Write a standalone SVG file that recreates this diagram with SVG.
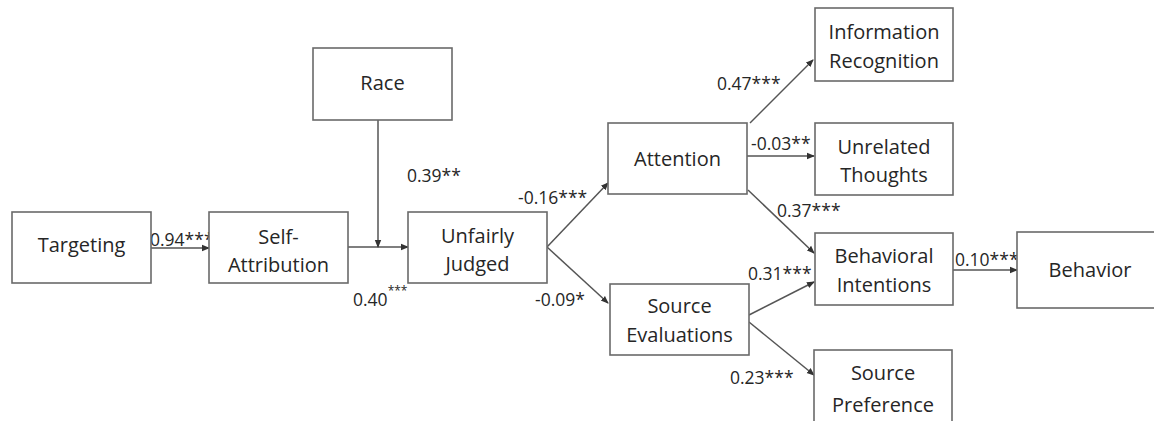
<svg xmlns="http://www.w3.org/2000/svg" width="1154" height="421" viewBox="0 0 1154 421">
<style>
.box{fill:#fff;stroke:#6a6a6a;stroke-width:1.6}
.t{font-family:"Open Sans","Liberation Sans",sans-serif;font-size:20px;fill:#262626;text-anchor:middle}
.l{font-family:"Open Sans","Liberation Sans",sans-serif;font-size:17.5px;fill:#262626}
.sup{font-size:12px}
.c{stroke:#555;stroke-width:1.5;fill:none;marker-end:url(#ah)}
</style>
<defs>
<marker id="ah" markerUnits="userSpaceOnUse" markerWidth="8" markerHeight="8" viewBox="0 0 8 8" refX="7" refY="4" orient="auto">
<path d="M0,0.8 L8,4 L0,7.2 Z" fill="#333"/>
</marker>
</defs>
<g id="connectors">
<line class="c" x1="151" y1="248" x2="209" y2="248"/>
<line class="c" x1="348" y1="247" x2="408" y2="247"/>
<line class="c" x1="378" y1="120" x2="378" y2="247"/>
<line class="c" x1="547" y1="247" x2="608" y2="183"/>
<line class="c" x1="547" y1="247" x2="608" y2="303"/>
<line class="c" x1="750" y1="123" x2="813" y2="60"/>
<line class="c" x1="747" y1="156" x2="814" y2="156"/>
<line class="c" x1="748" y1="190" x2="814" y2="253"/>
<line class="c" x1="749" y1="315" x2="814" y2="282"/>
<line class="c" x1="749" y1="322" x2="814" y2="375"/>
<line class="c" x1="953" y1="270" x2="1017" y2="270"/>
</g>
<g id="labels">
<text class="l" x="150" y="246">0.94***</text>
<text class="l" x="353" y="306">0.40<tspan class="sup" dy="-11">***</tspan></text>
<text class="l" x="407" y="182">0.39**</text>
<text class="l" x="518" y="204">-0.16***</text>
<text class="l" x="535" y="306">-0.09*</text>
<text class="l" x="717" y="90">0.47***</text>
<text class="l" x="751" y="150">-0.03**</text>
<text class="l" x="777" y="217">0.37***</text>
<text class="l" x="748" y="280">0.31***</text>
<text class="l" x="730" y="384">0.23***</text>
<text class="l" x="955" y="266">0.10***</text>
</g>
<g id="targeting"><rect class="box" x="12" y="212" width="139" height="71"/><text class="t" x="81.5" y="252">Targeting</text></g>
<g id="self-attribution"><rect class="box" x="209" y="212" width="139" height="71"/><text class="t" x="278.5" y="244">Self-</text><text class="t" x="278.5" y="272">Attribution</text></g>
<g id="race"><rect class="box" x="313" y="48" width="139" height="72"/><text class="t" x="382.5" y="90">Race</text></g>
<g id="unfairly-judged"><rect class="box" x="408" y="212" width="139" height="71"/><text class="t" x="477.5" y="243">Unfairly</text><text class="t" x="477.5" y="271">Judged</text></g>
<g id="attention"><rect class="box" x="608" y="123" width="139" height="71"/><text class="t" x="677.5" y="166">Attention</text></g>
<g id="source-evaluations"><rect class="box" x="610" y="284" width="139" height="71"/><text class="t" x="679.5" y="313">Source</text><text class="t" x="679.5" y="342">Evaluations</text></g>
<g id="information-recognition"><rect class="box" x="815" y="8" width="138" height="73"/><text class="t" x="884" y="39">Information</text><text class="t" x="884" y="68">Recognition</text></g>
<g id="unrelated-thoughts"><rect class="box" x="815" y="123" width="138" height="72"/><text class="t" x="884" y="154">Unrelated</text><text class="t" x="884" y="182">Thoughts</text></g>
<g id="behavioral-intentions"><rect class="box" x="815" y="233" width="138" height="72"/><text class="t" x="884" y="263">Behavioral</text><text class="t" x="884" y="292">Intentions</text></g>
<g id="source-preference"><rect class="box" x="814" y="350" width="138" height="76"/><text class="t" x="883" y="380">Source</text><text class="t" x="883" y="412">Preference</text></g>
<g id="behavior"><rect class="box" x="1017" y="232" width="145" height="76"/><text class="t" x="1090" y="277">Behavior</text></g>
</svg>
